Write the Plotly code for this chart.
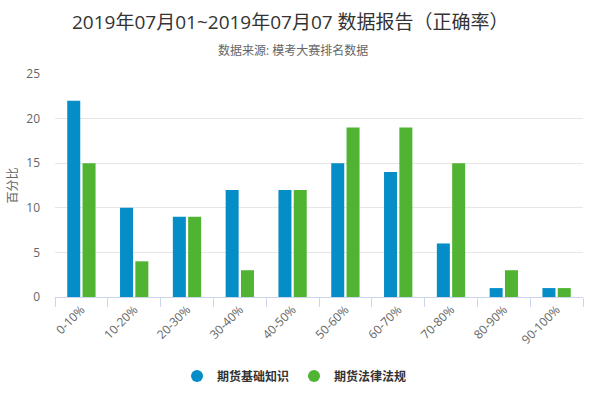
import plotly.graph_objects as go

categories = ["0-10%", "10-20%", "20-30%", "30-40%", "40-50%", "50-60%",
              "60-70%", "70-80%", "80-90%", "90-100%"]
series_names = ["期货基础知识", "期货法律法规"]
basic_values = [22, 10, 9, 12, 12, 15, 14, 6, 1, 1]
law_values = [15, 4, 9, 3, 12, 19, 19, 15, 3, 1]
y_ticks = [0, 5, 10, 15, 20, 25]
colors = ["#058DC7", "#50B432"]

title_text = "2019年07月01~2019年07月07 数据报告（正确率）"
subtitle_text = "数据来源: 模考大赛排名数据"
y_title = "百分比"

FONT = "Open Sans, Noto Sans CJK SC, sans-serif"

# plot area in pixels
L, R, T, B = 55, 583, 74, 297
PW, PH = R - L, B - T


def py(p):
    return (B - p) / PH


def px(p):
    return (p - L) / PW


fig = go.Figure()
for name, vals, col in zip(series_names, [basic_values, law_values], colors):
    fig.add_trace(go.Bar(x=categories, y=vals, name=name, marker_color=col,
                         marker_line_width=0, showlegend=False))
# legend entries with circle symbols
for name, col in zip(series_names, colors):
    fig.add_trace(go.Scatter(x=[None], y=[None], mode="markers", name="<b>" + name + "</b>",
                             marker=dict(symbol="circle", size=14, color=col)))

fig.update_layout(
    width=590, height=393,
    margin=dict(l=L, r=590 - R, t=T, b=393 - B, autoexpand=False),
    paper_bgcolor="white", plot_bgcolor="white",
    barmode="group", bargap=0.42, bargroupgap=0.15,
    font=dict(family=FONT, color="#666666", size=12),
    legend=dict(orientation="h", x=px(177), xanchor="left", y=py(376), yanchor="middle",
                font=dict(size=12, color="#333333", family=FONT),
                itemsizing="constant", tracegroupgap=0),
)
fig.add_annotation(text=title_text, xref="paper", x=px(290), yref="paper", y=py(22),
                   xanchor="center", yanchor="middle", showarrow=False,
                   font=dict(size=19, color="#333333", family=FONT))
fig.add_annotation(text=subtitle_text, xref="paper", x=px(293), yref="paper", y=py(51),
                   xanchor="center", yanchor="middle", showarrow=False,
                   font=dict(size=12, color="#666666", family=FONT))
fig.add_annotation(text=y_title, xref="paper", x=px(12), yref="paper", y=0.5,
                   xanchor="center", yanchor="middle", textangle=-90, showarrow=False,
                   font=dict(size=12, color="#666666", family=FONT))

fig.update_xaxes(
    type="category", tickangle=-45, showline=True, linecolor="#ccd6eb", linewidth=1,
    ticks="outside", tickson="boundaries", ticklen=9, tickcolor="#ccd6eb",
    showgrid=False, tickfont=dict(size=12, color="#666666"), automargin=False,
)
fig.update_yaxes(
    range=[0, 25], tickvals=y_ticks, showgrid=True, gridcolor="#e6e6e6", gridwidth=1,
    zeroline=False, showline=False, ticks="", ticklabelstandoff=14,
    tickfont=dict(size=12, color="#666666"), automargin=False,
)

fig.write_html("out.html", config={"displayModeBar": False},
               post_script="document.body.style.margin='0';document.body.style.padding='0';")
